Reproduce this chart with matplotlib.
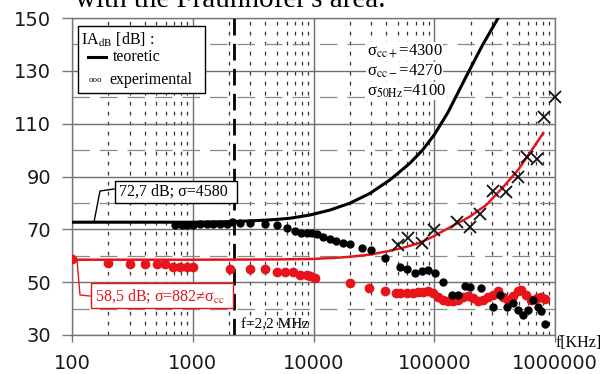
import matplotlib
matplotlib.use("Agg")
import matplotlib.pyplot as plt
from matplotlib.ticker import FixedLocator, NullFormatter
from matplotlib.lines import Line2D
from matplotlib.patches import Rectangle

plt.rcParams['mathtext.fontset'] = 'stix'

# ---------------- data ----------------
theo_black_f = [100, 1000, 2000, 3000, 4500, 6400, 9300, 13700, 20000, 29300,
                42900, 62800, 80000, 100000, 130000, 185000, 250000, 338000, 360000]
theo_black_db = [72.7, 72.7, 72.9, 73.2, 73.6, 74.2, 75.4, 77.3, 79.9, 83.6,
                 88.7, 95.0, 100.0, 105.8, 114.3, 128.1, 139.6, 150.0, 152.2]

theo_red_f = [100, 1000, 5000, 10000, 15000, 20000, 30000, 42000, 55000, 76000,
              100000, 143000, 197000, 271000, 372000, 495000, 638000, 798000]
theo_red_db = [58.5, 58.5, 58.6, 58.8, 59.2, 59.6, 60.5, 61.8, 63.0, 64.9,
               67.5, 71.4, 74.8, 79.3, 86.0, 92.5, 99.8, 106.4]

exp_black_f = [713, 809, 891, 1010, 1148, 1303, 1479, 1679, 1907, 2099, 2455, 2977,
               3960, 4945, 5985, 7020, 7950, 8770, 9640, 10600, 12000, 13700, 15500,
               17600, 20000, 25000, 30200, 39000, 51900, 59000, 69000, 78500, 89000,
               101000, 118600, 139000, 158000, 179000, 197000, 246000, 307000, 349000,
               397000, 450000, 495000, 545000, 599000, 659000, 725000, 773000, 824000]
exp_black_db = [71.8, 71.8, 71.8, 71.8, 71.9, 71.9, 72.0, 72.0, 72.2, 72.6, 72.4, 72.3,
                72.0, 71.8, 70.4, 69.4, 68.8, 68.8, 68.5, 68.3, 67.0, 66.2, 65.5,
                64.7, 64.3, 62.8, 62.2, 59.0, 55.9, 54.9, 53.6, 54.3, 54.6,
                53.4, 50.0, 45.2, 45.2, 48.6, 48.3, 47.7, 40.5, 45.2,
                40.5, 42.2, 39.5, 37.6, 39.5, 43.3, 40.5, 38.9, 34.2]

exp_red_f = [100, 200, 302, 402, 503, 588, 690, 783, 890, 1000, 2032, 2977, 3960,
             4945, 5790, 6780, 7700, 8770, 9350, 10200, 20000, 29000, 39000, 48500,
             51900, 59000, 67000, 73600, 80900, 89000, 98000, 108000, 118600, 130000,
             143000, 158000, 173000, 191000, 210000, 231000, 254000, 279000, 307000,
             338000, 372000, 409000, 450000, 495000, 527000, 580000, 638000, 703000,
             773000, 824000]
exp_red_db = [58.6, 57.4, 56.8, 56.8, 56.8, 56.8, 55.9, 55.9, 55.9, 55.9, 54.9, 54.9, 54.9,
              54.0, 54.0, 54.0, 52.7, 52.7, 52.4, 51.7, 49.8, 47.7, 46.8, 45.8,
              46.0, 46.0, 46.0, 46.2, 46.2, 46.7, 46.0, 44.5, 43.3, 42.7,
              42.7, 43.3, 44.3, 44.8, 44.0, 42.7, 43.3, 44.3, 45.2,
              46.7, 44.5, 43.3, 44.8, 46.7, 47.1, 45.0, 43.3, 44.0,
              44.5, 43.7]

exp_x_f = [50000, 60800, 78500, 100000, 153000, 197000, 238000, 304000, 396000,
           495000, 581000, 703000, 815000, 1000000]
exp_x_db = [64.1, 66.6, 64.7, 69.8, 72.9, 71.0, 75.8, 84.6, 84.3,
            89.9, 97.3, 96.5, 112.5, 120.0]

x_ticks = [100, 1000, 10000, 100000, 1000000]
x_tick_labels = ["100", "1000", "10000", "100000", "1000000"]
y_ticks = [30, 50, 70, 90, 110, 130, 150]
f_mark = 2200

RED = "#e8141b"

# ---------------- figure ----------------
W, H = 604, 374
fig = plt.figure(figsize=(W / 100, H / 100), dpi=100)
ax = fig.add_axes([72 / W, 39 / H, 483 / W, 317 / H])

def P(px, py):
    return (px / W, 1 - py / H)

ax.set_xscale("log")
ax.set_xlim(100, 1e6)
ax.set_ylim(30, 150)

ax.set_xticks(x_ticks)
ax.set_xticklabels(x_tick_labels)
ax.xaxis.set_minor_locator(FixedLocator([m * d for d in [100, 1000, 10000, 100000] for m in range(2, 10)]))
ax.xaxis.set_minor_formatter(NullFormatter())
ax.set_yticks(y_ticks)
ax.yaxis.set_minor_locator(FixedLocator(list(range(40, 150, 20))))

ax.tick_params(which="major", direction="out", width=1, color="#777777",
               labelsize=14, labelcolor="#1a1a1a")
ax.tick_params(axis="y", which="major", length=7, pad=8)
ax.tick_params(axis="x", which="major", length=5, pad=8.5)
ax.tick_params(which="minor", length=0)
for lab in ax.get_xticklabels() + ax.get_yticklabels():
    lab.set_family("DejaVu Sans")

ax.set_axisbelow(True)
ax.xaxis.grid(True, which="major", color="#6e6e6e", lw=1.0, ls="-")
ax.yaxis.grid(True, which="major", color="#6e6e6e", lw=1.0, ls="-")
ax.xaxis.grid(True, which="minor", color="#333333", lw=0.9, ls=(0, (3, 5)))
ax.yaxis.grid(True, which="minor", color="#8a8a8a", lw=0.9, ls=(0, (14, 8)))
for s in ax.spines.values():
    s.set_color("#777777")
    s.set_linewidth(1.0)

# marker line
ax.axvline(f_mark, color="black", lw=2.0, ls=(0, (6, 3)), zorder=3)

# theoretical curves
ax.plot(theo_red_f, theo_red_db, color=RED, lw=1.8, zorder=4)
ax.plot(theo_black_f, theo_black_db, color="black", lw=2.2, zorder=4)

# experimental
ax.plot(exp_red_f, exp_red_db, ls="none", marker="o", ms=6, color=RED,
        mec=RED, zorder=5)
ax.plot(exp_black_f, exp_black_db, ls="none", marker="o", ms=5.0, color="black",
        zorder=6)
ax.plot(exp_x_f, exp_x_db, ls="none", marker="x", ms=8, mew=1.3, color="#111111",
        zorder=6, clip_on=False)

serif = ["Liberation Serif", "DejaVu Serif"]

# legend box
fig.patches.append(Rectangle(P(78, 93), 127 / W, 67 / H, transform=fig.transFigure,
                             facecolor="white", edgecolor="black", lw=1.0, zorder=10))
fig.text(*P(81, 40), r"IA$_{\rm dB}$ [dB] :", family=serif, fontsize=11.5,
         va="center", ha="left", zorder=11)
fig.lines.append(Line2D([88 / W, 106 / W], [1 - 57 / H, 1 - 57 / H],
                        transform=fig.transFigure, color="black", lw=2.2, zorder=11))
fig.text(*P(113, 57), "teoretic", family=serif, fontsize=11.5, va="center",
         ha="left", zorder=11)
fig.text(*P(89, 80), "ooo", family=serif, fontsize=6.5, va="center", ha="left",
         zorder=11)
fig.text(*P(109, 80), "experimental", family=serif, fontsize=11.5, va="center",
         ha="left", zorder=11)

# sigma texts
for i, t in enumerate([r"σ$_{\rm cc+}$=4300", r"σ$_{\rm cc-}$=4270",
                       r"σ$_{\rm 50Hz}$=4100"]):
    fig.text(*P(367, 51 + 20 * i), t, family=serif, fontsize=12, va="center",
             ha="left", zorder=11,
             bbox=dict(facecolor="white", edgecolor="none", pad=0.5))

# black annotation box
fig.patches.append(Rectangle(P(115, 203), 122 / W, 22 / H, transform=fig.transFigure,
                             facecolor="white", edgecolor="black", lw=1.0, zorder=10))
fig.text(*P(119, 192), "72,7 dB; σ=4580", family=serif, fontsize=11.5, va="center",
         ha="left", zorder=11)
fig.lines.append(Line2D([94 / W, 100 / W, 114 / W], [1 - 222 / H, 1 - 191 / H, 1 - 189 / H],
                        transform=fig.transFigure, color="black", lw=1.0, zorder=11))

# red annotation box
fig.patches.append(Rectangle(P(91, 308), 142 / W, 25 / H, transform=fig.transFigure,
                             facecolor="white", edgecolor=RED, lw=1.0, zorder=10))
fig.text(*P(95, 296), r"58,5 dB; σ=882≠σ$_{\rm cc}$", family=serif, fontsize=11.5,
         color=RED, va="center", ha="left", zorder=11)
fig.lines.append(Line2D([77 / W, 80 / W, 90 / W], [1 - 260 / H, 1 - 295 / H, 1 - 296 / H],
                        transform=fig.transFigure, color=RED, lw=1.0, zorder=11))

# other texts
fig.text(*P(241, 325), "f=2,2 MHz", family=serif, fontsize=11, va="center",
         ha="left", zorder=11)
fig.text(*P(556, 343), "f[KHz]", family=serif, fontsize=11.5, va="center",
         ha="left", zorder=11)
fig.text(*P(75, 7), "with the Fraunhofer's area.", family=serif, fontsize=21,
         va="baseline", ha="left", zorder=11)

fig.savefig("out.png", dpi=100)
